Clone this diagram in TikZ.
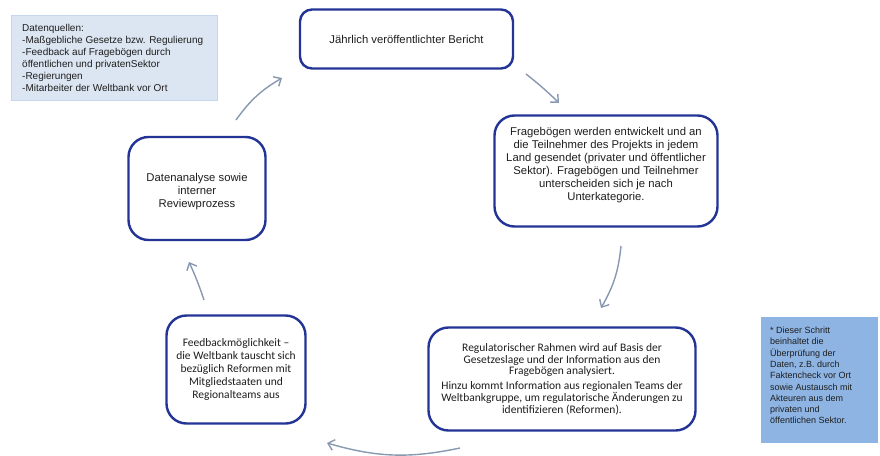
\documentclass[tikz,border=0pt]{standalone}
\usepackage{fontspec}
\setmainfont{Liberation Sans}
\newfontfamily\calib{Carlito}
\usetikzlibrary{arrows.meta}
\definecolor{boxblue}{RGB}{35,52,150}
\definecolor{srcfill}{RGB}{220,230,242}
\definecolor{srcdraw}{RGB}{198,214,236}
\definecolor{notefill}{RGB}{142,180,227}
\definecolor{arrowc}{RGB}{135,152,176}
\definecolor{txt}{RGB}{30,30,30}
\begin{document}
\begin{tikzpicture}[x=1pt,y=-1pt,
  stepbox/.style={draw=boxblue, line width=2.4pt, rounded corners=#1, fill=white,
    inner sep=0pt, align=center, text=txt},
  arialtext/.style={font=\fontsize{11.3}{13}\selectfont},
  calibtext/.style={font=\calib\fontsize{11.5}{12.9}\selectfont},
  srcbox/.style={draw=srcdraw, line width=0.8pt, fill=srcfill, inner sep=0pt},
  notebox/.style={fill=notefill, inner sep=0pt},
  plain/.style={inner sep=0pt, text=txt},
  flow/.style={draw=arrowc, line width=1.4pt, -{Straight Barb[length=6pt,width=11pt,line width=1.4pt]}},
]
\useasboundingbox (0,0) rectangle (880,455);

% data source box
\node[srcbox, minimum width=206pt, minimum height=85pt] (src) at (114,57.5) {};
\node[plain, anchor=west, align=left, font=\fontsize{10}{12.1}\selectfont] (srctext) at (22,58)
 {Datenquellen:\\-Maßgebliche Gesetze bzw. Regulierung\\-Feedback auf Fragebögen durch\\öffentlichen und privatenSektor\\-Regierungen\\-Mitarbeiter der Weltbank vor Ort};

% note box
\node[notebox, minimum width=117pt, minimum height=126pt] (note) at (819.5,380) {};
\node[plain, anchor=west, align=left, font=\fontsize{9}{11.3}\selectfont] (notetext) at (770,375.5)
 {* Dieser Schritt\\beinhaltet die\\Überprüfung der\\Daten, z.B. durch\\Faktencheck vor Ort\\sowie Austausch mit\\Akteuren aus dem\\privaten und\\öffentlichen Sektor.};

% process steps
\node[stepbox=12pt, arialtext, minimum width=213pt, minimum height=59pt] (bericht) at (406.5,39)
 {Jährlich veröffentlichter Bericht};
\node[stepbox=20pt, minimum width=223pt, minimum height=111pt] (frage) at (606,171) {};
\node[plain, arialtext, align=center] (fragetext) at (606,165.5)
 {Fragebögen werden entwickelt und an\\die Teilnehmer des Projekts in jedem\\Land gesendet (privater und öffentlicher\\Sektor). Fragebögen und Teilnehmer\\unterscheiden sich je nach\\Unterkategorie.};
\node[stepbox=20pt, font=\calib\fontsize{11.5}{11.7}\selectfont, minimum width=267pt, minimum height=103pt] (regul) at (562,379)
 {Regulatorischer Rahmen wird auf Basis der\\Gesetzeslage und der Information aus den\\Fragebögen analysiert.\\[3.3pt]Hinzu kommt Information aus regionalen Teams der\\Weltbankgruppe, um regulatorische Änderungen zu\\identifizieren (Reformen).};
\node[stepbox=20pt, calibtext, minimum width=139pt, minimum height=108pt] (feed) at (236,369.5)
 {Feedbackmöglichkeit –\\die Weltbank tauscht sich\\bezüglich Reformen mit\\Mitgliedstaaten und\\Regionalteams aus};
\node[stepbox=20pt, minimum width=137pt, minimum height=103pt] (analyse) at (197,188.5) {};
\node[plain, arialtext, align=center] (analysetext) at (197,192)
 {Datenanalyse sowie\\interner\\Reviewprozess};

% connector end points
\coordinate (a1s) at (236,120); \coordinate (a1e) at (282,78);
\coordinate (a2s) at (526,74);  \coordinate (a2e) at (559,103);
\coordinate (a3s) at (621,246); \coordinate (a3e) at (601,308);
\coordinate (a4s) at (460,448); \coordinate (a4e) at (327,443);
\coordinate (a5s) at (204,300); \coordinate (a5e) at (189,262);

\draw[flow] (a1s) to[bend left=12] (a1e);
\draw[flow] (a2s) to[bend left=3] (a2e);
\draw[flow] (a3s) to[bend left=12] (a3e);
\draw[flow] (a4s) to[bend left=14] (a4e);
\draw[flow] (a5s) to[bend right=3] (a5e);
\end{tikzpicture}
\end{document}
